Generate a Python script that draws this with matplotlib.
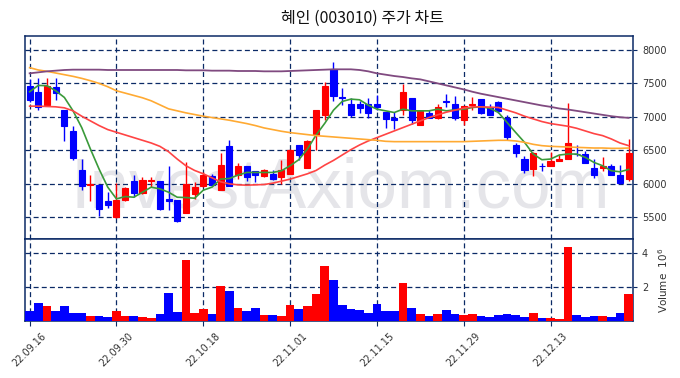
import matplotlib
matplotlib.use("Agg")
import matplotlib.pyplot as plt
import numpy as np
from matplotlib.ticker import FuncFormatter

title = "혜인 (003010) 주가 차트"
tick_labels = ['22.09.16', '22.09.30', '22.10.18', '22.11.01', '22.11.15', '22.11.29', '22.12.13']

opens = [7460, 7375, 7175, 7450, 7100, 6785, 6200, 5980, 5985, 5750,
         5500, 5760, 6035, 5860, 6040, 6035, 5775, 5760, 5560, 5850,
         5965, 6110, 5910, 6560, 6135, 6260, 6185, 6115, 6150, 6100,
         6140, 6585, 6240, 6735, 7035, 7710, 7290, 7190, 7190, 7190,
         7190, 7075, 6985, 7100, 7285, 6875, 7060, 6985, 7230, 7190,
         6960, 7170, 7265, 7140, 7215, 6985, 6585, 6375, 6225, 6270,
         6265, 6340, 6365, 6450, 6450, 6235, 6240, 6260, 6135, 6075]
highs = [7560, 7585, 7575, 7575, 7100, 6865, 6375, 6125, 6000, 5885,
         6010, 5950, 6135, 6100, 6100, 6040, 6260, 5765, 6325, 6025,
         6175, 6150, 6460, 6650, 6310, 6260, 6185, 6225, 6210, 6350,
         6525, 6585, 6660, 7100, 7525, 7815, 7425, 7275, 7240, 7275,
         7325, 7075, 7075, 7490, 7285, 7110, 7110, 7190, 7335, 7310,
         7160, 7300, 7265, 7190, 7235, 7025, 6615, 6410, 6475, 6310,
         6475, 6435, 7200, 6585, 6485, 6365, 6400, 6300, 6285, 6675]
lows = [7215, 7105, 7175, 7255, 6635, 6360, 5910, 5750, 5525, 5635,
        5490, 5740, 5800, 5850, 5950, 5610, 5615, 5425, 5560, 5775,
        5950, 5975, 5910, 5965, 6075, 6040, 6025, 6100, 6060, 6000,
        6140, 6350, 6240, 6510, 6950, 7235, 7175, 7000, 7060, 6990,
        7100, 6835, 6825, 7035, 6890, 6875, 6990, 6975, 7140, 6950,
        6875, 7100, 7050, 7025, 7060, 6650, 6400, 6160, 6115, 6190,
        6265, 6340, 6365, 6410, 6315, 6090, 6190, 6125, 6000, 6035]
closes = [7250, 7150, 7460, 7355, 6865, 6385, 5965, 6000, 5625, 5685,
          5765, 5940, 5860, 6050, 6060, 5625, 5740, 5440, 6000, 5960,
          6125, 5985, 6285, 5965, 6260, 6100, 6125, 6210, 6070, 6200,
          6510, 6435, 6635, 7100, 7460, 7315, 7280, 7025, 7125, 7060,
          7150, 6975, 6960, 7375, 6960, 7090, 6990, 7140, 7220, 6985,
          7160, 7185, 7065, 7035, 7085, 6700, 6465, 6210, 6465, 6260,
          6335, 6375, 6615, 6440, 6315, 6135, 6260, 6135, 6015, 6465]
volumes = [590000, 1060000, 880000, 590000, 880000, 470000, 470000, 290000, 290000, 240000,
           590000, 290000, 290000, 240000, 180000, 410000, 1650000, 530000, 3590000, 470000,
           710000, 410000, 2060000, 1760000, 760000, 590000, 760000, 350000, 350000, 290000,
           940000, 710000, 880000, 1590000, 3240000, 2410000, 940000, 710000, 650000, 470000,
           1000000, 590000, 590000, 2240000, 760000, 410000, 290000, 410000, 650000, 410000,
           350000, 410000, 290000, 240000, 350000, 410000, 350000, 240000, 470000, 180000,
           180000, 120000, 4350000, 350000, 240000, 290000, 290000, 240000, 470000, 1590000]
ma5 = [7375, 7470, 7465, 7390, 7290, 7090, 6840, 6520, 6220, 5950,
       5775, 5810, 5800, 5875, 5950, 5925, 5875, 5800, 5795, 5785,
       5905, 5950, 6070, 6080, 6130, 6170, 6170, 6170, 6170, 6195,
       6270, 6360, 6520, 6730, 6905, 7100, 7230, 7265, 7255, 7175,
       7115, 7090, 7065, 7115, 7090, 7090, 7090, 7115, 7090, 7105,
       7115, 7140, 7150, 7130, 7065, 6915, 6765, 6620, 6445, 6360,
       6370, 6430, 6445, 6445, 6395, 6320, 6270, 6195, 6180, 6215]
ma20 = [7160, 7160, 7155, 7150, 7135, 7090, 7010, 6940, 6870, 6810,
        6770, 6730, 6690, 6650, 6610, 6560, 6480, 6370, 6270, 6200,
        6150, 6090, 6030, 6000, 5985, 5980, 5985, 5990, 6010, 6040,
        6070, 6110, 6150, 6200, 6280, 6350, 6430, 6510, 6580, 6640,
        6690, 6740, 6790, 6840, 6890, 6940, 6990, 7030, 7070, 7100,
        7130, 7150, 7150, 7145, 7140, 7100, 7060, 7010, 6970, 6930,
        6900, 6880, 6860, 6830, 6790, 6750, 6720, 6670, 6610, 6570]
ma60 = [7735, 7700, 7680, 7655, 7630, 7605, 7575, 7540, 7500, 7450,
        7390, 7355, 7320, 7285, 7240, 7180, 7120, 7090, 7060, 7035,
        7010, 6990, 6970, 6950, 6925, 6900, 6870, 6835, 6810, 6785,
        6765, 6750, 6735, 6720, 6710, 6700, 6690, 6680, 6670, 6660,
        6650, 6635, 6630, 6630, 6630, 6630, 6630, 6630, 6630, 6630,
        6630, 6635, 6640, 6645, 6650, 6650, 6640, 6620, 6590, 6570,
        6560, 6555, 6550, 6545, 6540, 6535, 6535, 6530, 6530, 6535]
ma120 = [7650, 7665, 7680, 7690, 7700, 7705, 7705, 7705, 7705, 7700,
         7700, 7700, 7700, 7700, 7700, 7700, 7700, 7700, 7695, 7695,
         7695, 7690, 7690, 7690, 7685, 7685, 7685, 7680, 7680, 7680,
         7685, 7690, 7695, 7700, 7705, 7710, 7710, 7710, 7700, 7680,
         7650, 7630, 7610, 7595, 7575, 7560, 7530, 7500, 7470, 7440,
         7410, 7375, 7345, 7320, 7295, 7270, 7245, 7220, 7195, 7170,
         7150, 7125, 7110, 7090, 7070, 7050, 7030, 7010, 6995, 6985]

UP = '#ff0000'
DOWN = '#0000ff'
NAVY = '#0b2a66'

plt.rcParams['font.family'] = ['DejaVu Sans']

fig = plt.figure(figsize=(6.8, 3.78), dpi=100)
ax = fig.add_axes([0.0372, 0.3677, 0.8937, 0.5373])
axv = fig.add_axes([0.0372, 0.1508, 0.8937, 0.2169], sharex=ax)

x = np.arange(len(closes))
o = np.array(opens); c = np.array(closes); h = np.array(highs); l = np.array(lows)
colors = np.where(c >= o, UP, DOWN)

# watermark
ax.text(0.518, 0.245, 'InvestAxiom.com', transform=ax.transAxes, ha='center', va='center',
        fontsize=51, color='#e5e5e9', family='Liberation Sans', zorder=0)

# wicks
ax.vlines(x, l, h, colors=colors, linewidth=1.0, zorder=3)
# bodies
ax.bar(x, np.abs(c - o), bottom=np.minimum(o, c), width=0.7, color=colors,
       edgecolor=colors, linewidth=0.8, zorder=4)

ax.plot(x, ma5, color='#3a9a3a', lw=1.2, zorder=5)
ax.plot(x, ma20, color='#ff4444', lw=1.2, zorder=5)
ax.plot(x, ma60, color='#ffaa33', lw=1.2, zorder=5)
ax.plot(x, ma120, color='#804a80', lw=1.3, zorder=5)

ax.set_xlim(-0.5, len(closes) - 0.5)
ax.set_ylim(5176, 8209)
ax.set_yticks([5500, 6000, 6500, 7000, 7500, 8000])
ax.yaxis.tick_right()
ax.tick_params(axis='y', labelsize=7, colors='#333333', length=3, color=NAVY)
ax.tick_params(axis='x', bottom=False, labelbottom=False)

vol = np.array(volumes)
axv.bar(x, vol, width=1.0, color=colors, zorder=3)
axv.set_ylim(0, 4.82e6)
axv.set_yticks([2e6, 4e6])
axv.yaxis.set_major_formatter(FuncFormatter(lambda v, p: f'{v/1e6:.0f}'))
axv.yaxis.tick_right()
axv.yaxis.set_label_position('right')
axv.set_ylabel(r'Volume  $10^{6}$', fontsize=7.5, color='#333333', labelpad=6)
axv.tick_params(axis='y', labelsize=7, colors='#333333', length=3, color=NAVY)

ticks = list(range(0, len(closes), 10))
axv.set_xticks(ticks)
axv.set_xticklabels(tick_labels, rotation=45, fontsize=7, color='#333333')
axv.tick_params(axis='x', length=3.5, color=NAVY)

for a in (ax, axv):
    a.grid(True, color=NAVY, linestyle=(0, (4, 2.5)), linewidth=0.9)
    a.set_axisbelow(True)
    for s in a.spines.values():
        s.set_color(NAVY)
        s.set_linewidth(1.1)

fig.text(0.533, 0.951, title, ha='center', va='center', fontsize=11.5,
         family=['Noto Sans CJK KR', 'DejaVu Sans'], color='#111111')

fig.savefig('out.png', dpi=100)
